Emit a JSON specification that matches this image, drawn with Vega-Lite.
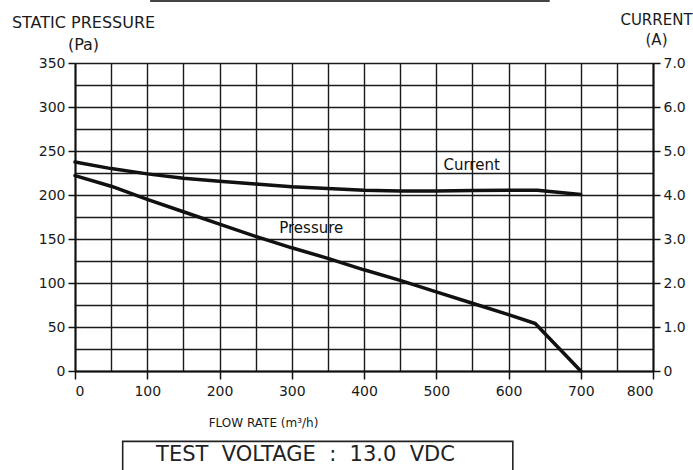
{
  "$schema": "https://vega.github.io/schema/vega-lite/v6.json",
  "width": 578,
  "height": 308,
  "autosize": {"type": "none"},
  "padding": {"left": 75, "top": 63, "right": 40, "bottom": 99},
  "background": "white",
  "config": {
    "view": {"stroke": null},
    "font": "DejaVu Sans",
    "axis": {
      "labelFont": "DejaVu Sans",
      "titleFont": "DejaVu Sans",
      "labelColor": "#1a1a1a",
      "titleColor": "#1a1a1a",
      "titleFontWeight": "normal",
      "domainColor": "#111",
      "domainWidth": 2,
      "tickColor": "#111",
      "tickWidth": 1.5,
      "gridColor": "#1a1a1a",
      "gridOpacity": 1,
      "gridWidth": 1.4
    }
  },
  "datasets": {
    "pressure": [
      {"flow": 0, "pressure": 222},
      {"flow": 50, "pressure": 210},
      {"flow": 100, "pressure": 195},
      {"flow": 150, "pressure": 181},
      {"flow": 200, "pressure": 167},
      {"flow": 250, "pressure": 153},
      {"flow": 300, "pressure": 140},
      {"flow": 350, "pressure": 128},
      {"flow": 400, "pressure": 115},
      {"flow": 450, "pressure": 103},
      {"flow": 500, "pressure": 90},
      {"flow": 550, "pressure": 77},
      {"flow": 600, "pressure": 64},
      {"flow": 637, "pressure": 54},
      {"flow": 700, "pressure": 0}
    ],
    "current": [
      {"flow": 0, "current": 4.75},
      {"flow": 50, "current": 4.6},
      {"flow": 100, "current": 4.48},
      {"flow": 150, "current": 4.38},
      {"flow": 200, "current": 4.31},
      {"flow": 250, "current": 4.25},
      {"flow": 300, "current": 4.19},
      {"flow": 350, "current": 4.15},
      {"flow": 400, "current": 4.11},
      {"flow": 450, "current": 4.09},
      {"flow": 500, "current": 4.09},
      {"flow": 550, "current": 4.1},
      {"flow": 600, "current": 4.11},
      {"flow": 640, "current": 4.11},
      {"flow": 700, "current": 4.01}
    ],
    "labels": [
      {"pressureLabel": "Pressure", "currentLabel": "Current", "note": "TEST\u00a0\u00a0VOLTAGE\u00a0\u00a0:\u00a0\u00a013.0\u00a0\u00a0VDC"}
    ]
  },
  "layer": [
    {
      "layer": [
        {
          "data": {"name": "pressure"},
          "mark": {"type": "line", "color": "#111", "strokeWidth": 3.5, "strokeJoin": "round", "strokeCap": "round"},
          "encoding": {
            "x": {
              "field": "flow", "type": "quantitative",
              "scale": {"domain": [0, 800], "nice": false, "zero": true},
              "axis": {"values": [0, 50, 100, 150, 200, 250, 300, 350, 400, 450, 500, 550, 600, 650, 700, 750, 800], "grid": true, "labelExpr": "datum.value % 100 == 0 ? datum.label : ''", "labelFontSize": 14, "labelPadding": 5, "tickSize": {"condition": {"test": "datum.value % 100 != 0", "value": 0}, "value": 8}, "title": "FLOW RATE (m³/h)", "titleFontSize": 12, "titleAnchor": "middle", "titleAlign": "center", "titleBaseline": "middle", "titleX": 188, "titleY": 51}
            },
            "y": {
              "field": "pressure", "type": "quantitative",
              "scale": {"domain": [0, 350], "nice": false},
              "axis": {"values": [0, 25, 50, 75, 100, 125, 150, 175, 200, 225, 250, 275, 300, 325, 350], "grid": true, "labelExpr": "datum.value % 50 == 0 ? datum.label : ''", "labelFontSize": 14, "labelPadding": 3, "tickSize": {"condition": {"test": "datum.value % 50 != 0", "value": 0}, "value": 7}, "title": ["STATIC PRESSURE", "(Pa)"], "titleFontSize": 16, "titleAngle": 0, "titleAlign": "center", "titleBaseline": "top", "titleLineHeight": 22, "titleX": 8, "titleY": -49}
            }
          }
        },
        {
          "data": {"name": "labels"},
          "mark": {"type": "text", "fontSize": 15, "color": "#111", "align": "center", "baseline": "middle"},
          "encoding": {
            "x": {
              "datum": 327, "type": "quantitative",
              "scale": {"domain": [0, 800], "nice": false, "zero": true},
              "axis": {"values": [0, 50, 100, 150, 200, 250, 300, 350, 400, 450, 500, 550, 600, 650, 700, 750, 800], "grid": true, "labelExpr": "datum.value % 100 == 0 ? datum.label : ''", "labelFontSize": 14, "labelPadding": 5, "tickSize": {"condition": {"test": "datum.value % 100 != 0", "value": 0}, "value": 8}, "title": "FLOW RATE (m³/h)", "titleFontSize": 12, "titleAnchor": "middle", "titleAlign": "center", "titleBaseline": "middle", "titleX": 188, "titleY": 51}
            },
            "y": {
              "datum": 162, "type": "quantitative",
              "scale": {"domain": [0, 350], "nice": false},
              "axis": {"values": [0, 25, 50, 75, 100, 125, 150, 175, 200, 225, 250, 275, 300, 325, 350], "grid": true, "labelExpr": "datum.value % 50 == 0 ? datum.label : ''", "labelFontSize": 14, "labelPadding": 3, "tickSize": {"condition": {"test": "datum.value % 50 != 0", "value": 0}, "value": 7}, "title": ["STATIC PRESSURE", "(Pa)"], "titleFontSize": 16, "titleAngle": 0, "titleAlign": "center", "titleBaseline": "top", "titleLineHeight": 22, "titleX": 8, "titleY": -49}
            },
            "text": {"field": "pressureLabel"}
          }
        },
        {
          "data": {"name": "labels"},
          "mark": {"type": "rect", "fillOpacity": 0, "stroke": "#222", "strokeWidth": 1.6, "clip": false},
          "encoding": {
            "x": {
              "datum": 66, "type": "quantitative",
              "scale": {"domain": [0, 800], "nice": false, "zero": true},
              "axis": {"values": [0, 50, 100, 150, 200, 250, 300, 350, 400, 450, 500, 550, 600, 650, 700, 750, 800], "grid": true, "labelExpr": "datum.value % 100 == 0 ? datum.label : ''", "labelFontSize": 14, "labelPadding": 5, "tickSize": {"condition": {"test": "datum.value % 100 != 0", "value": 0}, "value": 8}, "title": "FLOW RATE (m³/h)", "titleFontSize": 12, "titleAnchor": "middle", "titleAlign": "center", "titleBaseline": "middle", "titleX": 188, "titleY": 51}
            },
            "x2": {"datum": 606},
            "y": {
              "datum": -80, "type": "quantitative",
              "scale": {"domain": [0, 350], "nice": false},
              "axis": {"values": [0, 25, 50, 75, 100, 125, 150, 175, 200, 225, 250, 275, 300, 325, 350], "grid": true, "labelExpr": "datum.value % 50 == 0 ? datum.label : ''", "labelFontSize": 14, "labelPadding": 3, "tickSize": {"condition": {"test": "datum.value % 50 != 0", "value": 0}, "value": 7}, "title": ["STATIC PRESSURE", "(Pa)"], "titleFontSize": 16, "titleAngle": 0, "titleAlign": "center", "titleBaseline": "top", "titleLineHeight": 22, "titleX": 8, "titleY": -49}
            },
            "y2": {"datum": -116}
          }
        },
        {
          "data": {"name": "labels"},
          "mark": {"type": "text", "fontSize": 21, "color": "#222", "align": "center", "baseline": "middle", "clip": false},
          "encoding": {
            "x": {
              "datum": 319, "type": "quantitative",
              "scale": {"domain": [0, 800], "nice": false, "zero": true},
              "axis": {"values": [0, 50, 100, 150, 200, 250, 300, 350, 400, 450, 500, 550, 600, 650, 700, 750, 800], "grid": true, "labelExpr": "datum.value % 100 == 0 ? datum.label : ''", "labelFontSize": 14, "labelPadding": 5, "tickSize": {"condition": {"test": "datum.value % 100 != 0", "value": 0}, "value": 8}, "title": "FLOW RATE (m³/h)", "titleFontSize": 12, "titleAnchor": "middle", "titleAlign": "center", "titleBaseline": "middle", "titleX": 188, "titleY": 51}
            },
            "y": {
              "datum": -95, "type": "quantitative",
              "scale": {"domain": [0, 350], "nice": false},
              "axis": {"values": [0, 25, 50, 75, 100, 125, 150, 175, 200, 225, 250, 275, 300, 325, 350], "grid": true, "labelExpr": "datum.value % 50 == 0 ? datum.label : ''", "labelFontSize": 14, "labelPadding": 3, "tickSize": {"condition": {"test": "datum.value % 50 != 0", "value": 0}, "value": 7}, "title": ["STATIC PRESSURE", "(Pa)"], "titleFontSize": 16, "titleAngle": 0, "titleAlign": "center", "titleBaseline": "top", "titleLineHeight": 22, "titleX": 8, "titleY": -49}
            },
            "text": {"field": "note"}
          }
        },
        {
          "data": {"name": "labels"},
          "mark": {"type": "rule", "color": "#444", "strokeWidth": 3, "clip": false},
          "encoding": {
            "x": {
              "datum": 104, "type": "quantitative",
              "scale": {"domain": [0, 800], "nice": false, "zero": true},
              "axis": {"values": [0, 50, 100, 150, 200, 250, 300, 350, 400, 450, 500, 550, 600, 650, 700, 750, 800], "grid": true, "labelExpr": "datum.value % 100 == 0 ? datum.label : ''", "labelFontSize": 14, "labelPadding": 5, "tickSize": {"condition": {"test": "datum.value % 100 != 0", "value": 0}, "value": 8}, "title": "FLOW RATE (m³/h)", "titleFontSize": 12, "titleAnchor": "middle", "titleAlign": "center", "titleBaseline": "middle", "titleX": 188, "titleY": 51}
            },
            "x2": {"datum": 657},
            "y": {
              "datum": 421, "type": "quantitative",
              "scale": {"domain": [0, 350], "nice": false},
              "axis": {"values": [0, 25, 50, 75, 100, 125, 150, 175, 200, 225, 250, 275, 300, 325, 350], "grid": true, "labelExpr": "datum.value % 50 == 0 ? datum.label : ''", "labelFontSize": 14, "labelPadding": 3, "tickSize": {"condition": {"test": "datum.value % 50 != 0", "value": 0}, "value": 7}, "title": ["STATIC PRESSURE", "(Pa)"], "titleFontSize": 16, "titleAngle": 0, "titleAlign": "center", "titleBaseline": "top", "titleLineHeight": 22, "titleX": 8, "titleY": -49}
            }
          }
        }
      ]
    },
    {
      "layer": [
        {
          "data": {"name": "current"},
          "mark": {"type": "line", "color": "#111", "strokeWidth": 3.5, "strokeJoin": "round", "strokeCap": "round"},
          "encoding": {
            "x": {
              "field": "flow", "type": "quantitative",
              "scale": {"domain": [0, 800], "nice": false, "zero": true},
              "axis": {"values": [0, 50, 100, 150, 200, 250, 300, 350, 400, 450, 500, 550, 600, 650, 700, 750, 800], "grid": true, "labelExpr": "datum.value % 100 == 0 ? datum.label : ''", "labelFontSize": 14, "labelPadding": 5, "tickSize": {"condition": {"test": "datum.value % 100 != 0", "value": 0}, "value": 8}, "title": "FLOW RATE (m³/h)", "titleFontSize": 12, "titleAnchor": "middle", "titleAlign": "center", "titleBaseline": "middle", "titleX": 188, "titleY": 51}
            },
            "y": {
              "field": "current", "type": "quantitative",
              "scale": {"domain": [0, 7], "nice": false},
              "axis": {"orient": "right", "values": [0, 1, 2, 3, 4, 5, 6, 7], "grid": false, "labelExpr": "datum.value == 0 ? '0' : format(datum.value, '.1f')", "labelFontSize": 14, "labelPadding": 3, "tickSize": 7, "title": ["CURRENT", "(A)"], "titleFontSize": 15, "titleAngle": 0, "titleAlign": "center", "titleBaseline": "top", "titleLineHeight": 20, "titleX": 3, "titleY": -51}
            }
          }
        },
        {
          "data": {"name": "labels"},
          "mark": {"type": "text", "fontSize": 15, "color": "#111", "align": "center", "baseline": "middle"},
          "encoding": {
            "x": {
              "datum": 549, "type": "quantitative",
              "scale": {"domain": [0, 800], "nice": false, "zero": true},
              "axis": {"values": [0, 50, 100, 150, 200, 250, 300, 350, 400, 450, 500, 550, 600, 650, 700, 750, 800], "grid": true, "labelExpr": "datum.value % 100 == 0 ? datum.label : ''", "labelFontSize": 14, "labelPadding": 5, "tickSize": {"condition": {"test": "datum.value % 100 != 0", "value": 0}, "value": 8}, "title": "FLOW RATE (m³/h)", "titleFontSize": 12, "titleAnchor": "middle", "titleAlign": "center", "titleBaseline": "middle", "titleX": 188, "titleY": 51}
            },
            "y": {
              "datum": 4.69, "type": "quantitative",
              "scale": {"domain": [0, 7], "nice": false},
              "axis": {"orient": "right", "values": [0, 1, 2, 3, 4, 5, 6, 7], "grid": false, "labelExpr": "datum.value == 0 ? '0' : format(datum.value, '.1f')", "labelFontSize": 14, "labelPadding": 3, "tickSize": 7, "title": ["CURRENT", "(A)"], "titleFontSize": 15, "titleAngle": 0, "titleAlign": "center", "titleBaseline": "top", "titleLineHeight": 20, "titleX": 3, "titleY": -51}
            },
            "text": {"field": "currentLabel"}
          }
        }
      ]
    }
  ],
  "resolve": {"scale": {"y": "independent"}}
}
